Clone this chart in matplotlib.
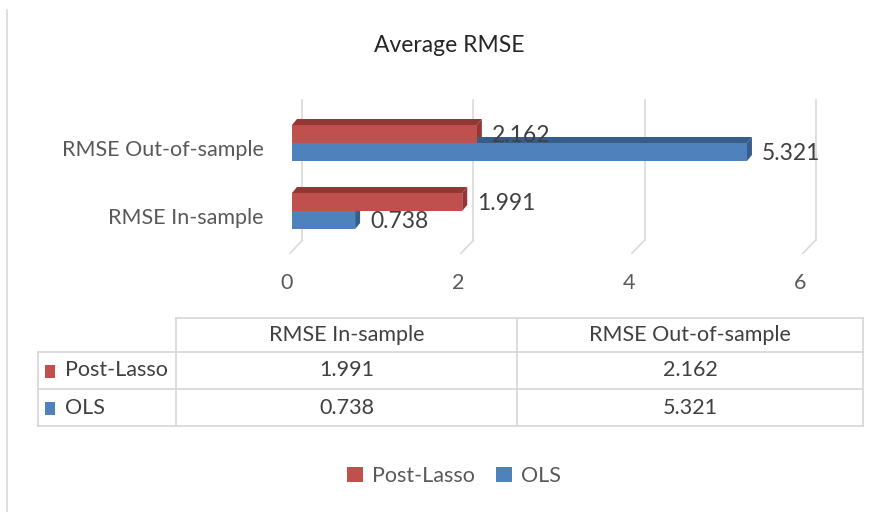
import matplotlib.pyplot as plt
from matplotlib.patches import Polygon, Rectangle
from matplotlib.lines import Line2D

plt.rcParams['font.family'] = ['Lato', 'DejaVu Sans']

# data
categories = ["RMSE In-sample", "RMSE Out-of-sample"]
series = ["Post-Lasso", "OLS"]
post_lasso = [1.991, 2.162]
ols = [0.738, 5.321]
x_ticks = [0, 2, 4, 6]
colors = {"Post-Lasso": "#C0504D", "OLS": "#4F81BD"}
dark = {"Post-Lasso": "#943634", "OLS": "#375D8B"}

W, H = 879, 512
FS = 15.5
fig = plt.figure(figsize=(W / 100, H / 100), dpi=100)

# chart area border (left edge only visible)
fig.add_artist(Line2D([7 / W, 7 / W], [0, 1 - 10 / H], color="#D9D9D9", lw=1.2))

fig.text(449 / W, 1 - 46 / H, "Average RMSE", ha="center", va="center",
         fontsize=16.5, color="#262626")

# main 3D-ish bar chart, data coords: x in RMSE, y in category index
ax = fig.add_axes([249.25 / W, (512 - 299.4) / H, 598.5 / W, 210.8 / H])
ax.set_xlim(-0.5, 6.5)
ax.set_ylim(-1.3, 1.8)
ax.axis("off")

px_x = 1 / 85.5   # data units per pixel in x
px_y = 1 / 68.0   # data units per pixel in y

# gridlines: back wall verticals + floor diagonals
for v in x_ticks:
    xb = v + 10.5 * px_x
    xf = v - 2 * px_x
    ax.plot([xb, xb], [1.632, -0.43], color="#D9D9D9", lw=1.2, zorder=0)
    ax.plot([xb, xf], [-0.43, -0.62], color="#D9D9D9", lw=1.2, zorder=0)
    ax.text(v - 5 * px_x, -1.06, str(v), ha="center", va="center",
            fontsize=FS, color="#595959")

bar_h = 18 * px_y
dx, dy = 5 * px_x, 6 * px_y
offsets = {"Post-Lasso": 9 * px_y, "OLS": -9 * px_y}
values = {"Post-Lasso": post_lasso, "OLS": ols}

for s in series:
    for i, val in enumerate(values[s]):
        yc = i + offsets[s]
        y0, y1 = yc - bar_h / 2, yc + bar_h / 2
        # right side face
        ax.add_patch(Polygon([(val, y0), (val + dx, y0 + dy), (val + dx, y1 + dy), (val, y1)],
                             closed=True, facecolor=dark[s], edgecolor="none", zorder=2 + i))
        # top face
        ax.add_patch(Polygon([(0, y1), (dx, y1 + dy), (val + dx, y1 + dy), (val, y1)],
                             closed=True, facecolor=dark[s], edgecolor="none", zorder=2 + i))
        ax.barh(yc, val, height=bar_h, color=colors[s], zorder=3 + i)
        ax.text(val + 15 * px_x, yc - 1 * px_y, f"{val:.3f}", ha="left", va="center",
                fontsize=16.5, color="#404040", zorder=5)

for i, c in enumerate(categories):
    ax.text(-28 * px_x, i - 7 * px_y, c, ha="right", va="center",
            fontsize=FS, color="#595959")

# data table
tx = fig.add_axes([38 / W, (512 - 426) / H, 825 / W, 108 / H])
tx.set_xlim(0, 1)
tx.set_ylim(0, 1)
tx.axis("off")
c1, c2 = 138 / 825, 479 / 825
r1, r2 = 1 - 34 / 108, 1 - 71 / 108
lc = "#D9D9D9"
kw = dict(color=lc, lw=1.3, clip_on=False)
tx.plot([c1, 1], [1, 1], **kw)
tx.plot([0, 1], [r1, r1], **kw)
tx.plot([0, 1], [r2, r2], **kw)
tx.plot([0, 1], [0, 0], **kw)
tx.plot([0, 0], [0, r1], **kw)
tx.plot([c1, c1], [0, 1], **kw)
tx.plot([c2, c2], [0, 1], **kw)
tx.plot([1, 1], [0, 1], **kw)

col_centers = [(c1 + c2) / 2, (c2 + 1) / 2]
for j, c in enumerate(categories):
    tx.text(col_centers[j], (1 + r1) / 2, c, ha="center", va="center",
            fontsize=FS, color="#404040")
row_centers = [(r1 + r2) / 2, r2 / 2]
for k, s in enumerate(series):
    yc = row_centers[k]
    tx.add_patch(Rectangle((7 / 825, yc - 7 / 108), 10 / 825, 13 / 108,
                           facecolor=colors[s], edgecolor="none", clip_on=False))
    tx.text(27 / 825, yc, s, ha="left", va="center", fontsize=FS, color="#404040")
    for j in range(len(categories)):
        tx.text(col_centers[j], yc, f"{values[s][j]:.3f}", ha="center", va="center",
                fontsize=FS, color="#404040")

# legend
handles = [Rectangle((0, 0), 1, 1, facecolor=colors[s]) for s in series]
fig.legend(handles, series, loc="center", bbox_to_anchor=(454 / W, 1 - 476 / H),
           ncol=2, frameon=False, fontsize=FS, handlelength=0.75, handleheight=0.75,
           handletextpad=0.4, columnspacing=1.0, labelcolor="#595959")

fig.savefig("out.png", dpi=100)
